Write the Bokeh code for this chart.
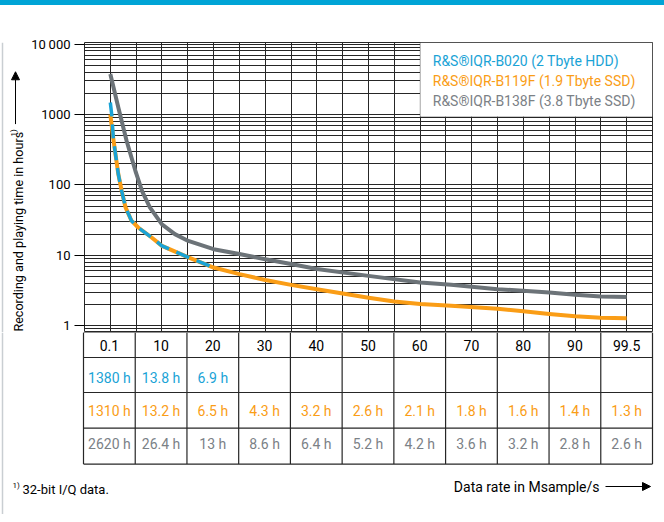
import numpy as np
from bokeh.plotting import figure
from bokeh.models import Range1d, FixedTicker, Label, Arrow, NormalHead, BoxAnnotation, Div
from bokeh.layouts import column, row
from bokeh.embed import file_html
from bokeh.resources import INLINE
from bokeh.core.properties import value

# ---------------- data ----------------
rates = ["0.1", "10", "20", "30", "40", "50", "60", "70", "80", "90", "99.5"]
b020_hours = [1380, 13.8, 6.9]
b119f_hours = [1310, 13.2, 6.5, 4.3, 3.2, 2.6, 2.1, 1.8, 1.6, 1.4, 1.3]
b138f_hours = [2620, 26.4, 13, 8.6, 6.4, 5.2, 4.2, 3.6, 3.2, 2.8, 2.6]

series_names = ["R&S®IQR-B020 (2 Tbyte HDD)",
                "R&S®IQR-B119F (1.9 Tbyte SSD)",
                "R&S®IQR-B138F (3.8 Tbyte SSD)"]

# curves (position on the evenly spaced rate axis, hours)
b138f_curve_x = [0, 1.55, 3.15, 4.95, 6.19, 7.66, 10, 12.5, 15.1, 20, 25, 30, 35, 40,
                 50, 60, 66, 75, 85, 90, 95, 100]
b138f_curve_y = [3750, 1260, 423, 150, 80, 48, 27.5, 20, 16, 12.2, 10.4, 8.8, 7.5, 6.4,
                 5.1, 4.1, 3.8, 3.3, 2.97, 2.75, 2.6, 2.55]
b119f_curve_x = [0, 0.6, 1.55, 2.2, 2.95, 4.1, 5.4, 8, 10, 15, 20, 25, 30, 35, 40,
                 50, 55, 60, 66, 75, 80, 85, 90, 95, 100]
b119f_curve_y = [1000, 440, 142, 82, 48, 31, 24.8, 17.9, 13.6, 9.4, 6.7, 5.4, 4.45, 3.8, 3.3,
                 2.5, 2.2, 2.03, 1.92, 1.74, 1.6, 1.47, 1.36, 1.3, 1.28]
b020_curve_x = [0, 0.3, 0.6, 1.55, 2.2, 2.95, 4.1, 5.4, 8, 10, 15, 20]
b020_curve_y = [1480, 955, 440, 142, 82, 48, 31, 24.8, 17.9, 13.6, 9.4, 6.7]

y_ticks = [1, 10, 100, 1000, 10000]
y_tick_labels = ["1", "10", "100", "1000", "10\u2009000"]

# ---------------- style / layout ----------------
FONT = "Roboto"
BLUE = "#1aa3d6"
BAND = "#00a4d6"
ORANGE = "#fa9d16"
GRAY_LINE = "#6c7378"
GRAY_TEXT = "#7b8186"
EDGE = "#c9ced2"
GRID = "#262626"

col_pos = [10 * i for i in range(len(rates))]
X0, X1 = -5, 105
FRAME_L, FRAME_R = 83, 652          # page pixels of the chart frame
SCALE = (FRAME_R - FRAME_L) / (X1 - X0)
TOTAL_W = 664
BAND_H = 5
TITLE_W = 28
TOP_H = 327                          # below the band; frame from page y 42 to 332
TABLE_H = 182


def page_x(px):
    """page pixel -> x data value of the rate axis"""
    return X0 + (px - FRAME_L) / SCALE


def bare(fig):
    fig.min_border_left = fig.min_border_right = 0
    fig.min_border_top = fig.min_border_bottom = 0
    fig.grid.visible = False
    fig.outline_line_color = None
    fig.background_fill_color = "white"
    fig.border_fill_color = "white"


# ---------------- top band ----------------
band = Div(text="", width=TOTAL_W, height=BAND_H, margin=(0, 0, 0, 0),
           styles={"background-color": BAND, "width": f"{TOTAL_W}px", "height": f"{BAND_H}px"})

# ---------------- y title strip ----------------
ttl = figure(width=TITLE_W, height=TOP_H, x_range=Range1d(0, TITLE_W),
             y_range=Range1d(TOP_H + BAND_H, BAND_H),
             output_backend="svg", toolbar_location=None, x_axis_location=None,
             y_axis_location=None, min_border=0)
bare(ttl)
ttl.segment(x0=[2], y0=[BAND_H], x1=[2], y1=[TOP_H + BAND_H], line_color=EDGE, line_width=1.5)
ttl.add_layout(Label(x=17.5, y=331, text="Recording and playing time in hours",
                     angle=np.pi / 2, text_font=FONT, text_font_size="12.6px",
                     text_baseline="middle", text_align="left", text_color="black"))
ttl.add_layout(Label(x=13, y=107, text="1)", angle=np.pi / 2, text_font=FONT,
                     text_font_size="8px", text_baseline="middle", text_align="center",
                     text_color="black"))
ttl.add_layout(Arrow(x_start=15, y_start=97, x_end=15, y_end=38,
                     line_color="black", line_width=1,
                     end=NormalHead(size=8, fill_color="black", line_color="black")))

# ---------------- chart ----------------
p = figure(width=TOTAL_W - TITLE_W, height=TOP_H, x_range=Range1d(X0, X1),
           y_range=Range1d(0.8, 10537), y_axis_type="log", output_backend="svg",
           toolbar_location=None, x_axis_location=None,
           min_border_left=FRAME_L - TITLE_W, min_border_right=TOTAL_W - FRAME_R,
           min_border_top=42 - BAND_H, min_border_bottom=0)
p.outline_line_color = GRID
p.background_fill_color = "white"
p.border_fill_color = "white"

p.xgrid.ticker = FixedTicker(ticks=list(range(-5, 106, 5)))
p.xgrid.grid_line_color = GRID
p.xgrid.grid_line_width = 1
grid_y = [m * 10.0 ** e for e in range(-1, 4) for m in range(1, 10)] + [10000]
grid_y = [g for g in grid_y if g > 0.85]
p.ygrid.ticker = FixedTicker(ticks=grid_y)
p.ygrid.grid_line_color = GRID
p.ygrid.grid_line_width = 1

ax = p.yaxis[0]
ax.ticker = FixedTicker(ticks=y_ticks, minor_ticks=[])
ax.major_label_overrides = dict(zip(y_ticks, y_tick_labels))
ax.major_tick_out = 10
ax.major_tick_in = 0
ax.minor_tick_out = 0
ax.minor_tick_in = 0
ax.major_tick_line_color = "black"
ax.axis_line_color = None
ax.major_label_standoff = 4
ax.major_label_text_font = FONT
ax.major_label_text_font_size = "13px"
ax.major_label_text_color = "black"

p.line(b138f_curve_x, b138f_curve_y, line_color=GRAY_LINE, line_width=4, line_join="round")
p.line(b119f_curve_x, b119f_curve_y, line_color=ORANGE, line_width=4, line_join="round")
p.line(b020_curve_x, b020_curve_y, line_color=BLUE, line_width=3.5, line_dash="14 8")

p.add_layout(BoxAnnotation(left=60, bottom=930, fill_color="white", fill_alpha=1,
                           line_color=GRID, line_width=1))
for name, col, yy in zip(series_names, [BLUE, ORANGE, GRAY_TEXT], [5662, 3013, 1567]):
    p.add_layout(Label(x=62.45, y=yy, text=name, text_color=col, text_font=FONT,
                       text_font_size="14px", text_baseline="middle", text_align="left"))

# ---------------- table + captions ----------------
t = figure(width=TOTAL_W, height=TABLE_H,
           x_range=Range1d(page_x(0), page_x(TOTAL_W)), y_range=Range1d(TABLE_H, 0),
           output_backend="svg", toolbar_location=None, x_axis_location=None,
           y_axis_location=None, min_border=0)
bare(t)
t.segment(x0=[page_x(2)], y0=[0], x1=[page_x(2)], y1=[TABLE_H], line_color=EDGE, line_width=1.5)

row_edges = [0, 25, 60, 95.6, 131.6]
col_edges = [c - 5 for c in col_pos] + [col_pos[-1] + 5]
t.segment(x0=col_edges, y0=[0] * len(col_edges), x1=col_edges, y1=[131.6] * len(col_edges),
          line_color=GRID, line_width=1.2)
t.segment(x0=[X0] * len(row_edges), y0=row_edges, x1=[X1] * len(row_edges), y1=row_edges,
          line_color=GRID, line_width=1.2)


def fmt(v):
    return f"{v:g} h"


t.text(x=col_pos, y=[13] * len(rates), text=rates, text_font=value(FONT),
       text_font_size="14px", text_align="center", text_baseline="middle", text_color="black")
t.text(x=col_pos[:len(b020_hours)], y=[45] * len(b020_hours), text=[fmt(v) for v in b020_hours],
       text_font=value(FONT), text_font_size="14px", text_align="center",
       text_baseline="middle", text_color=BLUE)
t.text(x=col_pos, y=[78] * len(b119f_hours), text=[fmt(v) for v in b119f_hours],
       text_font=value(FONT), text_font_size="14px", text_align="center",
       text_baseline="middle", text_color=ORANGE)
t.text(x=col_pos, y=[111] * len(b138f_hours), text=[fmt(v) for v in b138f_hours],
       text_font=value(FONT), text_font_size="14px", text_align="center",
       text_baseline="middle", text_color=GRAY_TEXT)

t.add_layout(Label(x=page_x(599), y=154, text="Data rate in Msample/s", text_font=FONT,
                   text_font_size="14px", text_align="right", text_baseline="middle",
                   text_color="black"))
t.add_layout(Arrow(x_start=page_x(605), y_start=154, x_end=page_x(650), y_end=154,
                   line_color="black", line_width=1,
                   end=NormalHead(size=8, fill_color="black", line_color="black")))
t.add_layout(Label(x=page_x(12), y=153, text="1)", text_font=FONT, text_font_size="8px",
                   text_align="left", text_baseline="middle", text_color="black"))
t.add_layout(Label(x=page_x(22), y=157, text="32-bit I/Q data.", text_font=FONT,
                   text_font_size="13px", text_align="left", text_baseline="middle",
                   text_color="black"))

layout = column(band, row(ttl, p), t)
open("out.html", "w").write(file_html(layout, INLINE))
